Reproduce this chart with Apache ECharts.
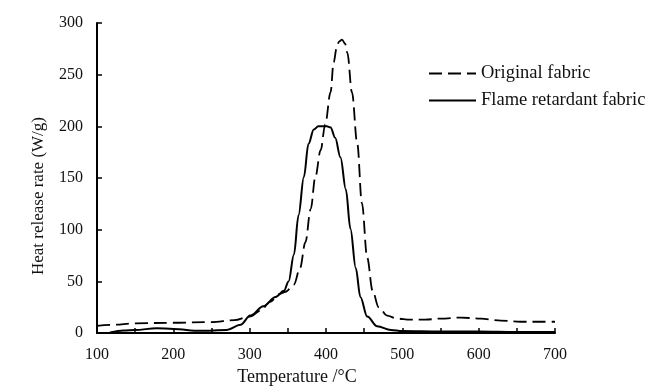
<!DOCTYPE html>
<html>
<head>
<meta charset="utf-8">
<script src="https://cdn.jsdelivr.net/npm/echarts@6/dist/echarts.min.js"></script>
<style>html,body{margin:0;padding:0;background:#fff}#c{width:653px;height:391px}</style>
</head>
<body>
<div id="c"></div>
<script>
var seriesNames = ['Original fabric', 'Flame retardant fabric'];
var tempOriginal = [100,120,150,200,250,280,300,315,326,340,347,358,366,373,380,386,393,399,406,410,414,417,421,425,428,434,441,447,454,461,469,480,493,510,530,550,577,603,629,655,680,700];
var hrrOriginal  = [7,8,9.5,10,10.7,12.5,16,22,30,38,40,47,63,88,120,151,177,202,233,262,276,282,284,280,271,233,183,126,73,41,25,17,14,13,13,14,15,14,12,11,11,11];
var tempFR = [117,135,150,178,200,235,270,288,301,318,334,345,351,358,364,371,377,384,390,395,401,406,412,419,426,432,439,445,454,467,485,500,550,600,650,700];
var hrrFR  = [0.5,2.5,3,4.7,4,2.2,3,8,17,26,35,41,50,76,114,151,183,197,200,200,200,199,189,170,139,101,63,35,16,6.6,3,2,1.5,1.5,1,1];

function pairs(xs, ys) { return xs.map(function (x, i) { return [x, ys[i]]; }); }

var font = '"Liberation Serif", "Times New Roman", serif';
var chart = echarts.init(document.getElementById('c'), null, {renderer: 'canvas'});
chart.setOption({
  animation: false,
  backgroundColor: '#fff',
  grid: {left: 97, right: 98, top: 23, bottom: 51, containLabel: false},
  legend: {
    orient: 'vertical', left: 423, top: 58,
    itemWidth: 47, itemHeight: 14, itemGap: 6,
    itemStyle: {color: 'rgba(0,0,0,0)', borderWidth: 0, opacity: 0},
    textStyle: {fontFamily: font, fontSize: 18.5, color: '#111', lineHeight: 21},
    data: seriesNames
  },
  xAxis: {
    type: 'value', min: 100, max: 700, interval: 100,
    name: 'Temperature /°C', nameLocation: 'middle', nameGap: 31,
    nameTextStyle: {fontFamily: font, fontSize: 18, color: '#111', padding: [0, 58, 0, 0]},
    axisLine: {lineStyle: {color: '#000', width: 2}},
    axisTick: {inside: true, length: 5, lineStyle: {color: '#000', width: 1.5}},
    minorTick: {show: true, splitNumber: 2, length: 5, lineStyle: {color: '#000', width: 1.5}},
    axisLabel: {fontFamily: font, fontSize: 16, color: '#111', margin: 14},
    splitLine: {show: false}
  },
  yAxis: {
    type: 'value', min: 0, max: 300, interval: 50,
    name: 'Heat release rate (W/g)', nameLocation: 'middle', nameGap: 50,
    nameTextStyle: {fontFamily: font, fontSize: 17, color: '#111', padding: [0, 36, 0, 0]},
    axisLine: {show: true, lineStyle: {color: '#000', width: 2}},
    axisTick: {show: true, inside: true, length: 5, lineStyle: {color: '#000', width: 1.5}},
    axisLabel: {fontFamily: font, fontSize: 16, color: '#111', margin: 14},
    splitLine: {show: false}
  },
  series: [
    {
      name: seriesNames[0], type: 'line', data: pairs(tempOriginal, hrrOriginal),
      symbol: 'none', smooth: 0.35, smoothMonotone: 'x',
      lineStyle: {color: '#000', width: 1.8, type: [13, 6]},
      itemStyle: {color: '#000'}
    },
    {
      name: seriesNames[1], type: 'line', data: pairs(tempFR, hrrFR),
      symbol: 'none', smooth: 0.35, smoothMonotone: 'x',
      lineStyle: {color: '#000', width: 2, type: 'solid'},
      itemStyle: {color: '#000'}
    }
  ]
});
</script>
</body>
</html>
